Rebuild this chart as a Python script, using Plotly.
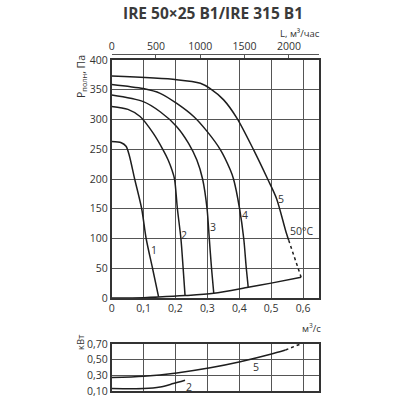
import plotly.graph_objects as go

# ---- data ----
q1 = [0, 0.03, 0.045, 0.055, 0.072, 0.094, 0.108, 0.128, 0.147]
p1 = [263, 261, 255, 240, 200, 150, 100, 50, 2]

q2 = [0, 0.051, 0.089, 0.13, 0.161, 0.177, 0.189, 0.197, 0.206, 0.217, 0.224, 0.23]
p2 = [322, 317, 305, 277, 249, 232, 215, 200, 150, 100, 50, 4]

q3 = [0, 0.099, 0.152, 0.204, 0.241, 0.267, 0.285, 0.299, 0.306, 0.313, 0.32]
p3 = [341, 330, 313, 288, 260, 232, 200, 150, 100, 50, 8]

q4 = [0, 0.099, 0.152, 0.204, 0.257, 0.299, 0.341, 0.372, 0.382, 0.401, 0.414, 0.422, 0.428]
p4 = [359, 352, 344, 327, 305, 280, 249, 215, 200, 150, 100, 50, 18]

q5 = [0, 0.204, 0.278, 0.309, 0.351, 0.393, 0.445, 0.489, 0.517, 0.545, 0.555]
p5 = [373, 367, 361, 352, 333, 302, 249, 200, 167, 114, 97]
q5_dash = [0.555, 0.594]
p5_dash = [97, 35]

q_sys = [0, 0.1, 0.147, 0.23, 0.32, 0.428, 0.5, 0.594]
p_sys = [0, 0.5, 1.5, 4, 8, 18, 25, 35]

qk5 = [0, 0.1, 0.204, 0.309, 0.403, 0.498, 0.545]
kw5 = [0.272, 0.289, 0.331, 0.396, 0.473, 0.568, 0.623]
qk5_dash = [0.545, 0.592]
kw5_dash = [0.623, 0.70]

qk2 = [0, 0.1, 0.152, 0.193, 0.23]
kw2 = [0.131, 0.131, 0.151, 0.195, 0.238]

x_ticks = [0, 0.1, 0.2, 0.3, 0.4, 0.5, 0.6]
x_ticktext = ["0", "0,1", "0,2", "0,3", "0,4", "0,5", "0,6"]
y_ticks = [0, 50, 100, 150, 200, 250, 300, 350, 400]
L_ticks = [0, 500, 1000, 1500, 2000]
kw_ticks = [0.1, 0.3, 0.5, 0.7]
kw_ticktext = ["0,10", "0,30", "0,50", "0,70"]

FONT = "Open Sans"
TXT = "#333333"
LINE = "#1e1e1e"
GRID = "#555555"

fig = go.Figure()

def curve(x, y, xa="x", ya="y", dash="solid"):
    fig.add_trace(go.Scatter(x=x, y=y, mode="lines", xaxis=xa, yaxis=ya,
                             line=dict(color=LINE, width=1.5, shape="spline", smoothing=0.8, dash=dash),
                             showlegend=False, hoverinfo="skip"))

for qx, py in [(q1, p1), (q2, p2), (q3, p3), (q4, p4), (q5, p5), (q_sys, p_sys)]:
    curve(qx, py)
curve(q5_dash, p5_dash, dash="dot")
curve(qk5, kw5, "x3", "y3")
curve(qk5_dash, kw5_dash, "x3", "y3", dash="dot")
curve(qk2, kw2, "x3", "y3")

# invisible trace to activate top axis
fig.add_trace(go.Scatter(x=[0], y=[0], xaxis="x2", yaxis="y", mode="markers",
                         marker=dict(opacity=0), showlegend=False, hoverinfo="skip"))

dom_x = [111.7 / 400, 319 / 400]
axis_common = dict(showline=True, linecolor="#333333", linewidth=1.5, mirror=True,
                   showgrid=True, gridcolor=GRID, gridwidth=1, zeroline=False, automargin=False,
                   ticks="", tickfont=dict(family=FONT, size=10.5, color=TXT))

fig.update_layout(
    template="none",
    width=400, height=400, autosize=False,
    margin=dict(l=0, r=0, t=0, b=0, pad=0),
    paper_bgcolor="white", plot_bgcolor="white",
    xaxis=dict(domain=dom_x, range=[0, 0.65], tickvals=x_ticks, ticktext=x_ticktext,
               anchor="y", **axis_common),
    yaxis=dict(domain=[1 - 298 / 400, 1 - 60 / 400], range=[0, 400], tickvals=y_ticks,
               anchor="x", **axis_common),
    xaxis2=dict(overlaying="x", side="top", anchor="free", position=1 - 54 / 400,
                range=[0, 0.65 * 3600], tickvals=L_ticks, showgrid=False, zeroline=False,
                automargin=False,
                showline=True, linecolor="#555555", linewidth=1, ticks="inside", ticklen=3,
                tickcolor="#555555", tickfont=dict(family=FONT, size=10.5, color=TXT)),
    xaxis3=dict(domain=dom_x, range=[0, 0.65], tickvals=x_ticks, showticklabels=False,
                anchor="y3", **axis_common),
    yaxis3=dict(domain=[1 - 391 / 400, 1 - 344 / 400], range=[0.1, 0.7], tickvals=kw_ticks,
                ticktext=kw_ticktext, anchor="x3", **axis_common),
)

ann_font = dict(family=FONT, size=10.5, color=TXT)

def pa(x, y, text, size=10, angle=0, xanchor="center", bold=False, color=TXT):
    return dict(x=x / 400, y=1 - y / 400, xref="paper", yref="paper", text=text,
                xanchor=xanchor, yanchor="middle", textangle=angle, showarrow=False,
                font=dict(family=FONT, size=size, color=color))

def da(x, y, text, xr="x", yr="y"):
    return dict(x=x, y=y, xref=xr, yref=yr, text=text, showarrow=False,
                xanchor="center", yanchor="middle", font=ann_font)

anns = [
    pa(213, 13, "<b>IRE 50×25 B1/IRE 315 B1</b>", size=15.5, color="#3a3a3a"),
    pa(322, 33, "L, м³/час", size=9.5, xanchor="right"),
    pa(81, 77, "P<sub>полн</sub>, Па", size=10.5, angle=-90),
    pa(80, 342, "кВт", size=9.5, angle=-90),
    pa(311, 328, "м<sup>3</sup>/с", size=9.5),
    da(0.133, 81, "1"),
    da(0.227, 106, "2"),
    da(0.318, 119, "3"),
    da(0.419, 140, "4"),
    da(0.531, 167, "5"),
    da(0.597, 112, "50°C"),
    da(0.451, 0.408, "5", "x3", "y3"),
    da(0.241, 0.151, "2", "x3", "y3"),
]
fig.update_layout(annotations=anns)

fig.write_html("out.html", config={"displayModeBar": False},
               post_script="document.body.style.margin='0px';document.body.style.overflow='hidden';")
